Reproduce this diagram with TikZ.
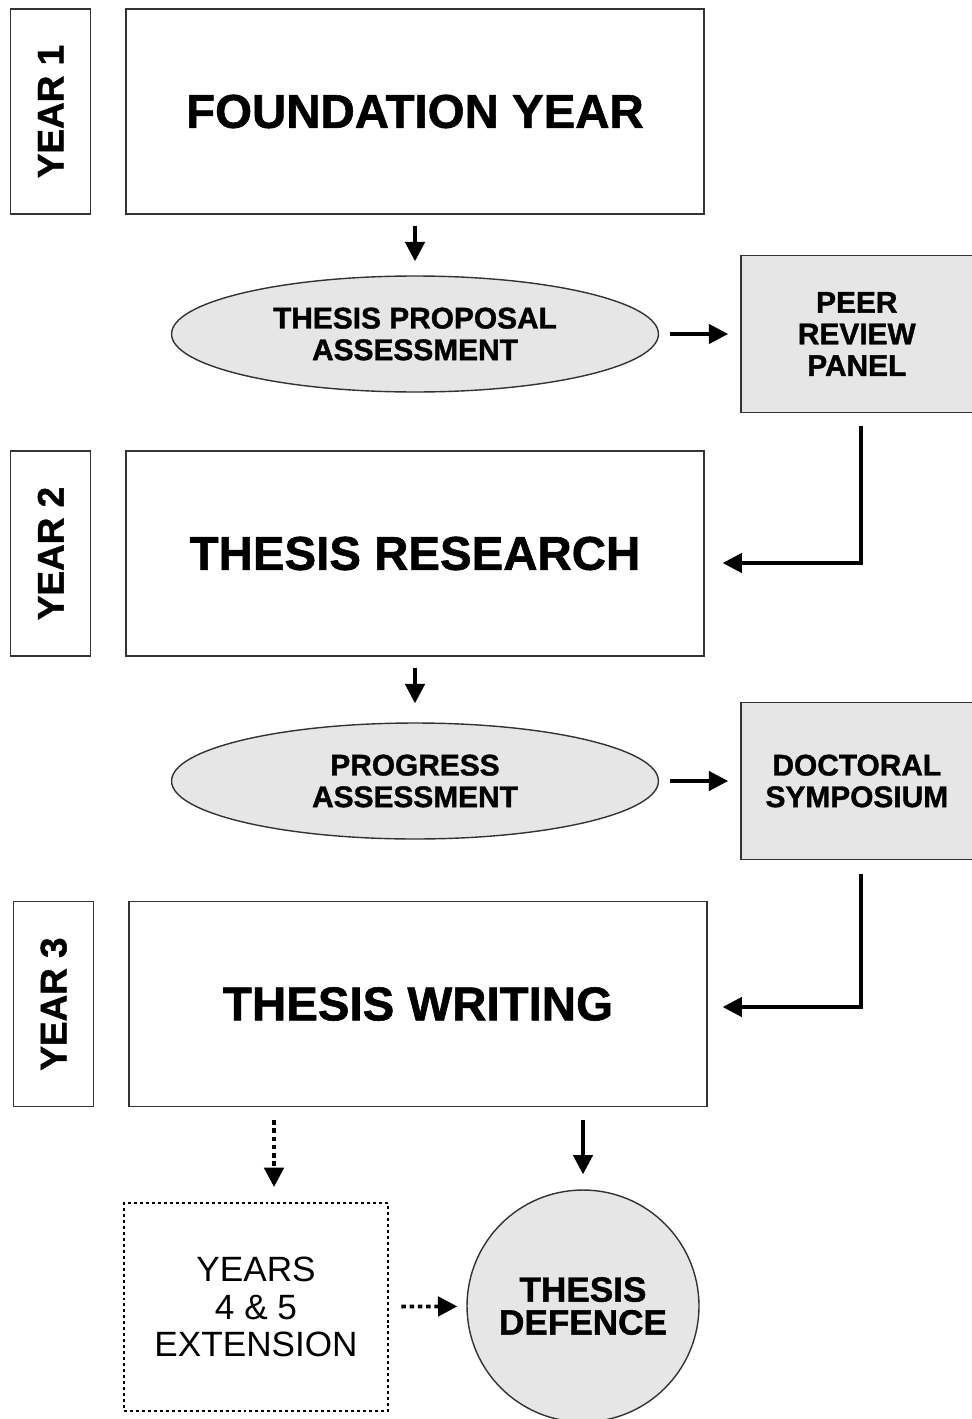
\documentclass[tikz,border=0pt]{standalone}
\usepackage{graphicx}
\usepackage{fontspec}
\setmainfont{Liberation Sans}[BoldFeatures={FakeBold=1.2}]
\usetikzlibrary{positioning, arrows.meta, shapes.geometric}
\definecolor{boxgray}{HTML}{E6E6E6}
\definecolor{edgegray}{HTML}{333333}
\tikzset{
>={Triangle[length=11pt, width=11pt]}, % solid, filled arrow heads
stage/.style={draw=edgegray, line width=0.8pt, minimum width=11.56cm, minimum height=4.1cm, font=\fontsize{27}{30}\selectfont\bfseries}, % the big box of each year
yearlabel/.style={draw=edgegray, line width=0.8pt, minimum width=1.6cm, minimum height=4.1cm, inner sep=0pt, font=\fontsize{21}{24}\selectfont\bfseries}, % the narrow YEAR n tags
assess/.style={ellipse, draw=edgegray, fill=boxgray, line width=0.8pt, minimum width=9.74cm, minimum height=2.32cm, inner sep=0pt, align=center, font=\fontsize{17}{18}\selectfont\bfseries}, % assessments
panel/.style={rectangle, draw=edgegray, fill=boxgray, line width=0.8pt, minimum width=4.64cm, minimum height=3.14cm, align=center, font=\fontsize{17}{18}\selectfont\bfseries}, % side events
extbox/.style={draw=black, dash pattern=on 1.7pt off 1.7pt, line width=1.6pt, minimum width=5.28cm, minimum height=4.16cm, align=center, font=\fontsize{20}{21.3}\selectfont}, % optional extension
defencecircle/.style={circle, draw=edgegray, fill=boxgray, line width=0.8pt, minimum size=4.64cm, inner sep=0pt, align=center, font=\fontsize{20}{18.7}\selectfont\bfseries}, % final step
flow/.style={->, line width=2pt}, % normal connector
dotflow/.style={->, line width=2.2pt, dash pattern=on 2.5pt off 2.2pt}, % optional connector
}

\begin{document}
\begin{tikzpicture}[x=0.02cm, y=-0.02cm]
    \useasboundingbox (0,0) rectangle (972,1419);

    % year 1
    \node[stage] (found) at (415,111.5) {FOUNDATION YEAR};
    \node[yearlabel, left=0.68cm of found] (year1) {\rotatebox{90}{YEAR 1}};
    \node[assess] (proposal) at (415,334) {THESIS PROPOSAL\\ASSESSMENT};
    \node[panel, right=1.62cm of proposal] (peer) {PEER\\REVIEW\\PANEL};

    % year 2
    \node[stage] (research) at (415,553.5) {THESIS RESEARCH};
    \node[yearlabel, left=0.68cm of research] (year2) {\rotatebox{90}{YEAR 2}};
    \node[assess] (progress) at (415,781) {PROGRESS\\ASSESSMENT};
    \node[panel, right=1.62cm of progress] (symposium) {DOCTORAL\\SYMPOSIUM};

    % year 3
    \node[stage] (writing) at (418,1004) {THESIS WRITING};
    \node[yearlabel, left=0.68cm of writing] (year3) {\rotatebox{90}{YEAR 3}};
    \node[extbox] (extension) at (256,1307) {YEARS\\4 \& 5\\EXTENSION};
    \node[defencecircle] (defence) at (583,1306) {THESIS\\DEFENCE};
    \coordinate (extin) at (274,1203);

    \draw[flow, shorten <=0.22cm, shorten >=0.28cm] (found) -- (proposal);
    \draw[flow, shorten <=0.22cm, shorten >=0.24cm] (proposal) -- (peer);
    \draw[flow] ([xshift=0.08cm, yshift=-0.26cm]peer.south) |- ([xshift=0.36cm, yshift=-0.19cm]research.east);
    \draw[flow, shorten <=0.22cm, shorten >=0.38cm] (research) -- (progress);
    \draw[flow, shorten <=0.22cm, shorten >=0.24cm] (progress) -- (symposium);
    \draw[flow] ([xshift=0.08cm, yshift=-0.28cm]symposium.south) |- ([xshift=0.3cm, yshift=-0.06cm]writing.east);
    \draw[dotflow, shorten <=0.26cm, shorten >=0.32cm] (writing.south -| extin) -- (extin);
    \draw[flow, shorten <=0.26cm, shorten >=0.3cm] (writing.south -| defence) -- (defence.north);
    \draw[dotflow, shorten <=0.24cm, shorten >=0.18cm] (extension) -- (defence);
\end{tikzpicture}
\end{document}
